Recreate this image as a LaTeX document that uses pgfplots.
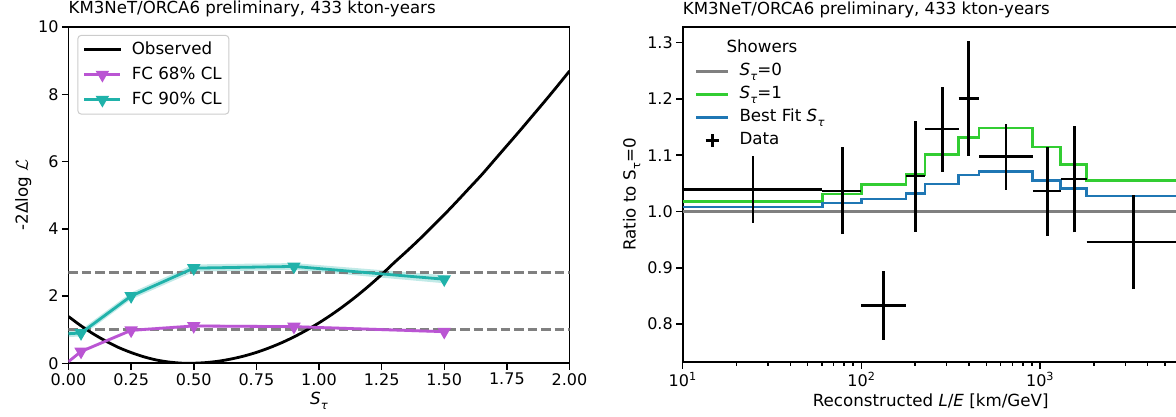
\documentclass[border=0pt]{standalone}
\usepackage{fontspec}
\setmainfont{DejaVu Sans}
\usepackage{pgfplots}
\pgfplotsset{compat=1.18}
\definecolor{orchid}{HTML}{BA55D3}
\definecolor{lsg}{HTML}{20B2AA}
\definecolor{limeg}{HTML}{32CD32}
\definecolor{tabblue}{HTML}{1F77B4}
\definecolor{mgray}{HTML}{808080}
\newcommand{\fs}{\fontsize{16.7}{20}\selectfont}
\newcommand{\ft}{\fontsize{16}{19}\selectfont}
\newcommand{\ftitle}{\fontsize{16.6}{19}\selectfont}
\newcommand{\Stau}{\textit{S}\kern0.02em\raisebox{-0.28em}{\fontsize{11.5}{12}\selectfont\textit{τ}}}
\newcommand{\Staur}{S\kern0.02em\raisebox{-0.28em}{\fontsize{11.5}{12}\selectfont τ}}
\pgfplotsset{
  mpl/.style={
    scale only axis,
    tick align=outside,
    tick pos=left,
    major tick length=6.5pt,
    minor tick length=3.8pt,
    every tick/.style={black, line width=1.5pt},
    axis line style={line width=1.8pt},
    tick label style={font=\ft},
    label style={font=\fs},
    title style={at={(0,1)}, anchor=base west, yshift=7pt, inner sep=0pt},
    title={\ftitle KM3NeT/ORCA6 preliminary, 433 kton-years},
    legend cell align=left,
  }
}
\begin{document}
\begin{tikzpicture}
\path[use as bounding box] (0pt,0pt) rectangle (1176pt,416pt);
% ---------------- left panel ----------------
\begin{axis}[mpl, at={(68.5pt,52.7pt)}, anchor=south west, width=501pt, height=336.3pt,
  xmin=0, xmax=2, ymin=0, ymax=10,
  xtick={0,0.25,0.5,0.75,1,1.25,1.5,1.75,2}, ytick={0,2,4,6,8,10},
  xticklabel={\pgfmathprintnumber[assume math mode=true, fixed, fixed zerofill, precision=2]{\tick}},
  yticklabel={\pgfmathprintnumber[assume math mode=true, fixed, precision=0]{\tick}},
  xlabel={\Stau}, ylabel={-2Δlog $\mathcal{L}$},
  legend style={at={(0,1)}, anchor=north west, xshift=9pt, yshift=-8pt,
    draw=black!20, rounded corners=3pt, line width=1pt, fill=white,
    font=\fs, row sep=4.5pt, inner xsep=5pt, inner ysep=4pt,
    nodes={text height=12.5pt, text depth=4pt, inner sep=2pt},
    /tikz/every odd column/.append style={column sep=8pt}},
  legend image code/.code={\draw[#1, mark indices={2}] plot coordinates {(0pt,0pt) (18pt,0pt) (36pt,0pt)};},
]
% bands
\addplot[fill=lsg, fill opacity=0.28, draw=none, forget plot] coordinates {
 (0,0.78) (0.05,0.80) (0.25,1.90) (0.5,2.72) (0.9,2.78) (1.5,2.38)
 (1.5,2.62) (0.9,2.98) (0.5,2.94) (0.25,2.10) (0.05,1.00) (0,0.98)} -- cycle;
\addplot[fill=orchid, fill opacity=0.2, draw=none, forget plot] coordinates {
 (0,0.0) (0.05,0.30) (0.25,0.93) (0.5,1.06) (0.9,1.04) (1.5,0.89)
 (1.5,0.99) (0.9,1.14) (0.5,1.16) (0.25,1.03) (0.05,0.40) (0,0.10)} -- cycle;
% reference lines
\addplot[mgray, line width=2.7pt, dash pattern=on 9.5pt off 4pt, forget plot] coordinates {(0,1) (2,1)};
\addplot[mgray, line width=2.7pt, dash pattern=on 9.5pt off 4pt, forget plot] coordinates {(0,2.71) (2,2.71)};
% observed
\addplot[black, line width=2.8pt, smooth] coordinates {
 (0.00,1.39) (0.05,1.115) (0.10,0.87) (0.15,0.657) (0.20,0.47) (0.25,0.32)
 (0.30,0.195) (0.35,0.10) (0.40,0.039) (0.45,0.005) (0.48,0.0) (0.50,0.002)
 (0.55,0.022) (0.60,0.064) (0.65,0.129) (0.70,0.215) (0.75,0.324) (0.80,0.456)
 (0.85,0.609) (0.90,0.785) (0.95,0.983) (1.00,1.203) (1.05,1.446) (1.10,1.711)
 (1.15,1.998) (1.20,2.307) (1.25,2.638) (1.30,2.992) (1.35,3.33) (1.40,3.68)
 (1.45,4.05) (1.50,4.42) (1.55,4.81) (1.60,5.21) (1.65,5.61) (1.70,6.04)
 (1.75,6.47) (1.80,6.90) (1.85,7.34) (1.90,7.78) (1.95,8.23) (2.00,8.69)};
\addlegendentry{Observed}
\addplot[orchid, line width=2.8pt, mark=triangle*, mark size=5pt, mark indices={2,3,4,5,6}, mark options={rotate=180, solid}] coordinates {
 (0,0.05) (0.05,0.35) (0.25,0.98) (0.5,1.11) (0.9,1.09) (1.5,0.94)};
\addlegendentry{FC 68\% CL}
\addplot[lsg, line width=2.8pt, mark=triangle*, mark size=5pt, mark indices={2,3,4,5,6}, mark options={rotate=180, solid}] coordinates {
 (0,0.88) (0.05,0.90) (0.25,2.00) (0.5,2.83) (0.9,2.88) (1.5,2.50)};
\addlegendentry{FC 90\% CL}
\end{axis}
% ---------------- right panel ----------------
\begin{axis}[mpl, xmode=log, at={(682.7pt,54pt)}, anchor=south west, width=496pt, height=335pt,
  xmin=10, xmax=5965, ymin=0.7327, ymax=1.3277,
  xtick={10,100,1000}, xticklabels={10\textsuperscript{1},10\textsuperscript{2},10\textsuperscript{3}},
  minor xtick={20,30,40,50,60,70,80,90,200,300,400,500,600,700,800,900,2000,3000,4000,5000},
  ytick={0.8,0.9,1.0,1.1,1.2,1.3},
  yticklabel={\pgfmathprintnumber[assume math mode=true, fixed, fixed zerofill, precision=1]{\tick}},
  xlabel={Reconstructed \textit{L}/\textit{E} [km/GeV]}, ylabel={Ratio to \Staur=0},
  legend style={at={(0,1)}, anchor=north west, xshift=10pt, yshift=-9pt,
    draw=none, fill=none, font=\fs, row sep=2pt, inner xsep=2pt, inner ysep=2pt,
    nodes={text height=12.5pt, text depth=4.5pt, inner sep=2pt},
    /tikz/every odd column/.append style={column sep=8pt}},
  legend image code/.code={\draw[mark repeat=2,mark phase=2,#1] plot coordinates {(0pt,0pt) (16pt,0pt) (32pt,0pt)};},
  unbounded coords=jump,
]
\addplot[mgray, line width=2.6pt, forget plot] coordinates {(10,1.0) (6070,1.0)};
\addplot[limeg, line width=2.6pt, const plot, forget plot] coordinates {
 (10,1.0174) (60.4,1.0311) (100,1.0477) (178,1.066) (227,1.1015) (350,1.1317)
 (455,1.1483) (910,1.1146) (1303,1.0838) (1823,1.0554) (6070,1.0554)};
\addplot[tabblue, line width=2.6pt, const plot, forget plot] coordinates {
 (10,1.008) (60.4,1.0151) (100,1.0222) (178,1.0323) (227,1.0488) (350,1.0648)
 (455,1.0714) (910,1.0547) (1303,1.0412) (1823,1.0275) (6070,1.0275)};
% data: horizontal bin widths
\addplot[black, line width=2.6pt, forget plot] coordinates {
 (10,1.0394) (60.4,1.0394) (nan,nan)
 (60.4,1.0364) (100,1.0364) (nan,nan)
 (100,0.8327) (178,0.8327) (nan,nan)
 (178,1.063) (227,1.063) (nan,nan)
 (227,1.1465) (350,1.1465) (nan,nan)
 (350,1.201) (455,1.201) (nan,nan)
 (455,1.0973) (910,1.0973) (nan,nan)
 (910,1.0364) (1303,1.0364) (nan,nan)
 (1303,1.0577) (1823,1.0577) (nan,nan)
 (1823,0.9458) (6070,0.9458)};
% data: vertical error bars
\addplot[black, line width=2.6pt, forget plot] coordinates {
 (24.7,0.980) (24.7,1.099) (nan,nan)
 (78.2,0.960) (78.2,1.114) (nan,nan)
 (133,0.772) (133,0.894) (nan,nan)
 (200,0.964) (200,1.160) (nan,nan)
 (284,1.0707) (284,1.221) (nan,nan)
 (398,1.099) (398,1.303) (nan,nan)
 (644,1.039) (644,1.155) (nan,nan)
 (1097,0.9565) (1097,1.115) (nan,nan)
 (1552,0.963) (1552,1.152) (nan,nan)
 (3326,0.862) (3326,1.029)};
\addplot[black, only marks, mark=*, mark size=1.8pt, forget plot] coordinates {
 (24.7,1.0394) (78.2,1.0364) (133,0.8327) (200,1.063) (284,1.1465) (398,1.201)
 (644,1.0973) (1097,1.0364) (1552,1.0577) (3326,0.9458)};
\addlegendimage{empty legend}
\addlegendentry{\hspace{-13pt}Showers}
\addlegendimage{mgray, line width=2.6pt}
\addlegendentry{\Stau=0}
\addlegendimage{limeg, line width=2.6pt}
\addlegendentry{\Stau=1}
\addlegendimage{tabblue, line width=2.6pt}
\addlegendentry{Best Fit \Stau}
\addlegendimage{black, line width=2.6pt, only marks, mark=+, mark size=6.5pt}
\addlegendentry{Data}
\end{axis}
\end{tikzpicture}
\end{document}
